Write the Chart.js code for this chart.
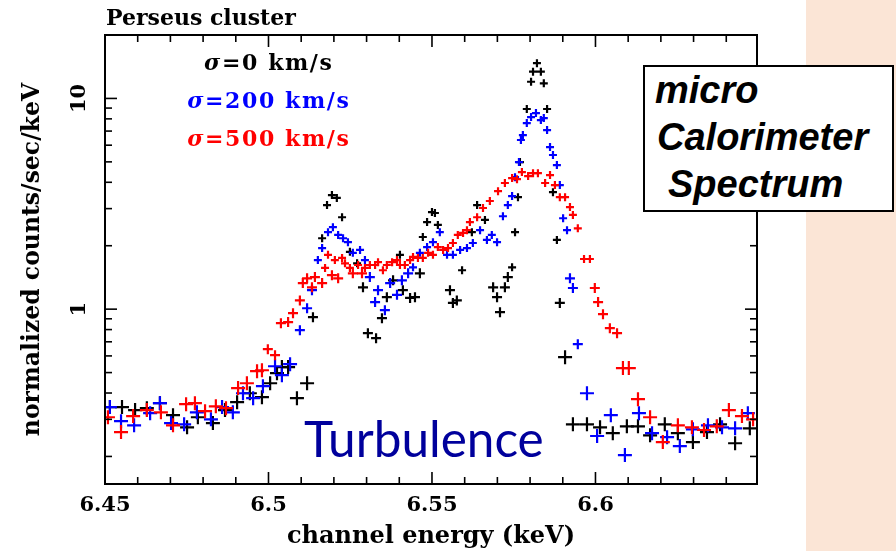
<!DOCTYPE html>
<html><head><meta charset="utf-8">
<script src="https://cdn.jsdelivr.net/npm/chart.js@4/dist/chart.umd.min.js"></script>
<style>
html,body{margin:0;padding:0;background:#fff;}
#wrap{position:relative;width:896px;height:551px;overflow:hidden;background:#fff;}
#peach{position:absolute;left:806px;top:0;width:90px;height:551px;background:#FBE5D6;}
#c{position:absolute;left:0;top:0;}
#box{position:absolute;left:643px;top:65px;width:247px;height:143px;border:2px solid #000;background:#fff;
 font-family:"Liberation Sans",Arial,sans-serif;font-weight:bold;font-style:italic;font-size:38px;line-height:47px;color:#000;}
#box div{white-space:nowrap;}
#turb{position:absolute;left:304px;top:414px;font-family:Lato,sans-serif;font-size:49.5px;line-height:49.5px;color:#00009c;white-space:nowrap;}
</style>
</head><body>
<div id="wrap">
 <div id="peach"></div>
 <canvas id="c" width="896" height="551"></canvas>
 <div id="box"><div style="padding-left:10px">micro</div><div style="padding-left:12px">Calorimeter</div><div style="padding-left:23px">Spectrum</div></div>
 <div id="turb">Turbulence</div>
</div>
<script>
// ---- data (energy in keV, normalized counts/sec/keV) ----
const chartTitle = 'Perseus cluster';
const seriesNames = ['σ=0 km/s', 'σ=200 km/s', 'σ=500 km/s'];
const seriesColors = ['#000000', '#0000ff', '#ff0000'];

const e0 = [6.4515,6.4552,6.4592,6.4628,6.4668,6.4708,6.4751,6.4784,6.4830,6.4867,
 6.4904,6.4943,6.4980,6.5005,6.5026,6.5041,6.5060,6.5087,6.5118,6.5136,
 6.5164,6.5179,6.5194,6.5209,6.5225,6.5249,6.5271,6.5289,6.5304,6.5329,
 6.5347,6.5362,6.5381,6.5402,6.5411,6.5433,6.5448,6.5463,6.5472,6.5485,
 6.5500,6.5509,6.5518,6.5555,6.5564,6.5576,6.5592,6.5622,6.5638,6.5662,
 6.5687,6.5699,6.5708,6.5723,6.5732,6.5745,6.5754,6.5763,6.5769,6.5790,
 6.5803,6.5809,6.5821,6.5833,6.5842,6.5852,6.5870,6.5882,6.5891,6.5907,
 6.5931,6.5974,6.6014,6.6053,6.6096,6.6130,6.6167,6.6212,6.6252,6.6298,
 6.6341,6.6381,6.6427,6.6472];
const c0 = [0.343,0.343,0.332,0.339,0.358,0.314,0.275,0.307,0.288,0.332,
 0.362,0.399,0.382,0.445,0.497,0.531,0.531,0.378,0.445,0.916,
 2.17,3.12,3.48,3.37,2.73,1.87,1.65,1.27,0.769,0.728,
 0.906,1.14,1.37,1.81,1.23,1.13,1.14,1.48,2.20,2.59,
 2.89,2.86,2.51,1.23,1.07,1.10,1.53,2.32,3.12,2.65,
 1.27,1.14,0.968,1.27,1.42,1.58,2.32,3.40,4.99,8.91,
 12.0,13.4,14.7,13.4,11.8,8.91,3.59,2.13,1.07,0.592,
 0.284,0.284,0.275,0.258,0.278,0.278,0.252,0.284,0.258,0.234,
 0.261,0.284,0.231,0.272];

const e200 = [6.4515,6.4549,6.4589,6.4638,6.4668,6.4702,6.4742,6.4781,6.4824,6.4858,
 6.4891,6.4922,6.4953,6.4983,6.5020,6.5041,6.5066,6.5096,6.5118,6.5133,
 6.5151,6.5164,6.5182,6.5197,6.5213,6.5228,6.5243,6.5258,6.5280,6.5295,
 6.5310,6.5326,6.5335,6.5356,6.5372,6.5393,6.5408,6.5427,6.5442,6.5463,
 6.5485,6.5503,6.5524,6.5546,6.5564,6.5586,6.5607,6.5625,6.5647,6.5668,
 6.5683,6.5699,6.5717,6.5732,6.5745,6.5754,6.5766,6.5772,6.5778,6.5790,
 6.5803,6.5818,6.5833,6.5842,6.5852,6.5861,6.5870,6.5882,6.5891,6.5901,
 6.5913,6.5922,6.5931,6.5946,6.5974,6.6005,6.6047,6.6090,6.6133,6.6173,
 6.6219,6.6258,6.6298,6.6344,6.6387,6.6427,6.6466];
const c200 = [0.343,0.294,0.281,0.321,0.358,0.288,0.284,0.324,0.300,0.343,
 0.324,0.399,0.378,0.431,0.536,0.486,0.548,0.795,1.01,1.23,
 1.71,1.95,2.32,2.45,2.25,2.17,2.08,1.85,1.91,1.71,
 1.42,1.08,1.23,0.989,1.33,1.17,1.37,1.48,1.58,1.85,
 1.97,2.08,2.32,1.81,1.81,1.91,1.95,2.06,2.37,2.13,
 2.25,2.08,2.76,3.12,3.44,4.23,4.99,6.35,6.70,7.64,
 8.16,8.52,7.89,8.07,7.08,5.88,5.39,4.83,3.88,2.70,
 2.37,1.40,1.26,0.682,0.399,0.250,0.314,0.203,0.321,0.258,
 0.247,0.224,0.269,0.281,0.275,0.272,0.321];

const e500 = [6.4509,6.4549,6.4586,6.4628,6.4671,6.4708,6.4748,6.4775,6.4806,6.4839,
 6.4870,6.4907,6.4934,6.4965,6.4980,6.4998,6.5020,6.5038,6.5060,6.5075,
 6.5096,6.5105,6.5118,6.5133,6.5142,6.5164,6.5173,6.5182,6.5194,6.5203,
 6.5213,6.5225,6.5234,6.5249,6.5258,6.5274,6.5286,6.5295,6.5310,6.5326,
 6.5335,6.5350,6.5362,6.5378,6.5393,6.5402,6.5417,6.5433,6.5442,6.5457,
 6.5472,6.5488,6.5503,6.5518,6.5534,6.5549,6.5564,6.5579,6.5595,6.5607,
 6.5616,6.5638,6.5656,6.5677,6.5702,6.5723,6.5745,6.5760,6.5775,6.5794,
 6.5809,6.5824,6.5846,6.5861,6.5876,6.5891,6.5907,6.5922,6.5931,6.5946,
 6.5965,6.5983,6.5998,6.6008,6.6023,6.6044,6.6066,6.6084,6.6102,6.6130,
 6.6167,6.6206,6.6252,6.6295,6.6332,6.6371,6.6408,6.6448,6.6482];
const c500 = [0.307,0.261,0.311,0.332,0.324,0.281,0.354,0.358,0.328,0.346,
 0.339,0.422,0.445,0.508,0.513,0.646,0.605,0.858,0.868,0.957,
 1.10,1.33,1.40,1.27,1.42,1.33,1.57,1.81,1.45,1.71,
 1.40,1.75,1.65,1.57,1.48,1.62,1.48,1.57,1.62,1.62,
 1.67,1.53,1.62,1.67,1.71,1.62,1.62,1.71,1.77,1.75,
 1.75,1.85,1.81,1.97,1.91,1.95,2.06,2.25,2.30,2.37,
 2.59,2.73,3.02,3.26,3.63,3.97,4.19,4.14,4.47,4.28,
 4.42,4.42,3.97,4.33,3.88,3.40,3.40,3.05,2.80,2.42,
 1.73,1.73,1.26,1.08,0.947,0.812,0.769,0.525,0.525,0.374,
 0.307,0.234,0.281,0.275,0.267,0.278,0.332,0.311,0.300];

// ---- ticks ----
const xLabelTicks = [6.45, 6.5, 6.55, 6.6];
const xMinorTicks = [6.46,6.47,6.48,6.49,6.51,6.52,6.53,6.54,6.56,6.57,6.58,6.59,6.61,6.62,6.63,6.64];
const yLabelTicks = [1, 10];
const yMinorTicks = [0.2,0.3,0.4,0.5,0.6,0.7,0.8,0.9,2,3,4,5,6,7,8,9];

const serif = '"DejaVu Serif", serif';

function pts(xs, ys){ return xs.map((x,i)=>({x:x, y:ys[i]})); }
function crossRadius(ctx){
  const v = ctx.raw ? ctx.raw.y : 1;
  return v < 0.6 ? 7 : (v < 1.5 ? 5 : 4);
}

const frameTicks = {
  id:'frameTicks',
  afterDraw(chart){
    const {ctx, chartArea:a, scales} = chart;
    const xs = scales.x, ys = scales.y;
    ctx.save();
    ctx.strokeStyle = '#000';
    ctx.lineWidth = 1.6;
    const seg = (x1,y1,x2,y2)=>{ ctx.beginPath(); ctx.moveTo(x1,y1); ctx.lineTo(x2,y2); ctx.stroke(); };
    xLabelTicks.forEach(v=>{ const p = xs.getPixelForValue(v); seg(p,a.bottom,p,a.bottom-12); seg(p,a.top,p,a.top+12); });
    xMinorTicks.forEach(v=>{ const p = xs.getPixelForValue(v); seg(p,a.bottom,p,a.bottom-7); seg(p,a.top,p,a.top+7); });
    yLabelTicks.forEach(v=>{ const p = ys.getPixelForValue(v); seg(a.left,p,a.left+12,p); seg(a.right,p,a.right-12,p); });
    yMinorTicks.forEach(v=>{ const p = ys.getPixelForValue(v); seg(a.left,p,a.left+7,p); seg(a.right,p,a.right-7,p); });
    ctx.lineWidth = 2;
    ctx.strokeRect(a.left, a.top, a.right-a.left, a.bottom-a.top);
    // title
    ctx.fillStyle = '#000';
    ctx.textBaseline = 'alphabetic';
    ctx.textAlign = 'left';
    ctx.font = 'bold 22px ' + serif;
    ctx.fillText(chartTitle, a.left+1, 25);
    // in-plot legend
    const baselines = [70, 108, 146];
    const sp = 1.6;
    seriesNames.forEach((name,i)=>{
      const chars = Array.from(name);
      const fonts = chars.map((ch,k)=> (k===0 ? 'italic bold 22px ' : 'bold 22px ') + serif);
      const widths = chars.map((ch,k)=>{ ctx.font = fonts[k]; return ctx.measureText(ch).width; });
      const total = widths.reduce((s,w)=>s+w,0) + sp*(chars.length-1);
      let xp = 268 - total/2;
      ctx.fillStyle = seriesColors[i];
      chars.forEach((ch,k)=>{ ctx.font = fonts[k]; ctx.fillText(ch, xp, baselines[i]); xp += widths[k] + sp; });
    });
    ctx.restore();
  }
};

const datasets = [
  {label:seriesNames[2], data:pts(e500,c500), color:seriesColors[2], order:0},
  {label:seriesNames[1], data:pts(e200,c200), color:seriesColors[1], order:1},
  {label:seriesNames[0], data:pts(e0,c0), color:seriesColors[0], order:2}
].map(d=>({
  label:d.label, data:d.data, order:d.order, showLine:false,
  pointStyle:'cross', pointRadius:crossRadius, pointBorderWidth:2.2,
  borderColor:d.color, backgroundColor:d.color, pointHoverRadius:crossRadius
}));

new Chart(document.getElementById('c'), {
  type:'scatter',
  data:{datasets},
  options:{
    responsive:false, animation:false, devicePixelRatio:1,
    layout:{padding:{left:0, right:139, top:35, bottom:0}},
    plugins:{legend:{display:false}, tooltip:{enabled:false}, title:{display:false}},
    scales:{
      x:{
        type:'linear', min:6.45, max:6.6494,
        grid:{display:false, drawTicks:false}, border:{display:false},
        afterBuildTicks:(s)=>{ s.ticks = xLabelTicks.map(v=>({value:v})); },
        afterFit:(s)=>{ s.height = 67; },
        ticks:{ callback:(v)=>String(v), color:'#000', padding:9, maxRotation:0, autoSkip:false,
          font:{family:serif, weight:'bold', size:21} },
        title:{display:true, text:'channel energy (keV)', color:'#000', padding:{top:0,bottom:0},
          font:{family:serif, weight:'bold', size:24}}
      },
      y:{
        type:'logarithmic', min:0.148, max:20,
        grid:{display:false, drawTicks:false}, border:{display:false},
        afterBuildTicks:(s)=>{ s.ticks = yLabelTicks.map(v=>({value:v})); },
        afterFit:(s)=>{ s.width = 105; },
        ticks:{ callback:(v)=>String(v), color:'#000', padding:11, minRotation:90, maxRotation:90,
          crossAlign:'center', autoSkip:false, font:{family:serif, weight:'bold', size:21} },
        title:{display:true, text:'normalized counts/sec/keV', color:'#000', padding:{top:19,bottom:0},
          font:{family:serif, weight:'bold', size:23.5}}
      }
    }
  },
  plugins:[frameTicks]
});
</script>
</body></html>
